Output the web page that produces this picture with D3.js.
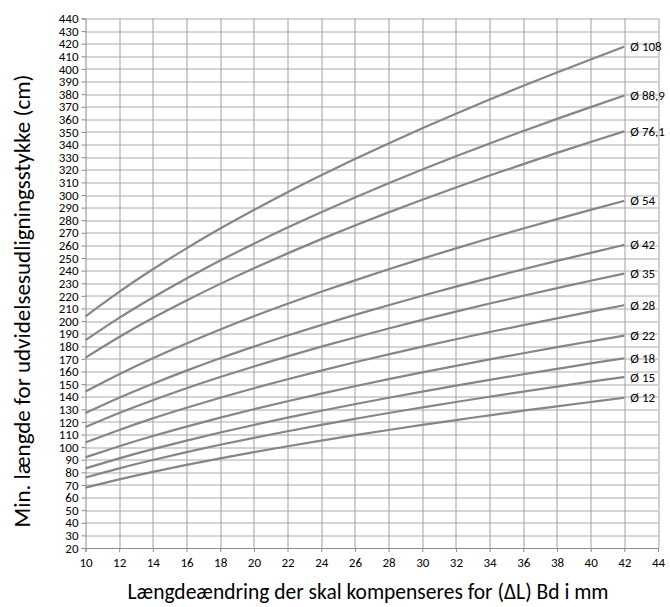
<!DOCTYPE html>
<html lang="da">
<head>
    <meta charset="UTF-8">
    <title>Udvidelsesudligning</title>
    <script src="https://d3js.org/d3.v7.min.js"></script>
    <style>
        body { margin: 0; background: #fff; }
        text { font-family: Carlito, Calibri, "Liberation Sans", sans-serif; }
    </style>
</head>
<body>
    <div id="chart"></div>

    <script>
        // length change (mm) at which every curve is read
        const deltaL = [10, 12, 14, 16, 18, 20, 22, 24, 26, 28, 30, 32, 34, 36, 38, 40, 42];

        // series (cm)
        const d12   = [67.9, 74.4, 80.4, 85.9, 91.1, 96.0, 100.7, 105.2, 109.5, 113.6, 117.6, 121.5, 125.2, 128.9, 132.4, 135.8, 139.2];
        const d15   = [75.9, 83.2, 89.8, 96.0, 101.9, 107.4, 112.6, 117.6, 122.4, 127.1, 131.5, 135.8, 140.0, 144.1, 148.0, 151.9, 155.6];
        const d18   = [83.2, 91.1, 98.4, 105.2, 111.6, 117.6, 123.4, 128.9, 134.1, 139.2, 144.1, 148.8, 153.4, 157.8, 162.1, 166.4, 170.5];
        const d22   = [92.0, 100.7, 108.8, 116.3, 123.4, 130.1, 136.4, 142.5, 148.3, 153.9, 159.3, 164.5, 169.6, 174.5, 179.3, 183.9, 188.5];
        const d28   = [103.7, 113.6, 122.8, 131.2, 139.2, 146.7, 153.9, 160.7, 167.3, 173.6, 179.7, 185.6, 191.3, 196.8, 202.2, 207.5, 212.6];
        const d35   = [116.0, 127.1, 137.2, 146.7, 155.6, 164.0, 172.0, 179.7, 187.0, 194.1, 200.9, 207.5, 213.9, 220.1, 226.1, 232.0, 237.7];
        const d42   = [127.1, 139.2, 150.3, 160.7, 170.5, 179.7, 188.5, 196.8, 204.9, 212.6, 220.1, 227.3, 234.3, 241.1, 247.7, 254.1, 260.4];
        const d54   = [144.1, 157.8, 170.5, 182.2, 193.3, 203.8, 213.7, 223.2, 232.3, 241.1, 249.5, 257.7, 265.7, 273.4, 280.9, 288.2, 295.3];
        const d76_1 = [171.0, 187.4, 202.4, 216.3, 229.5, 241.9, 253.7, 265.0, 275.8, 286.2, 296.2, 306.0, 315.4, 324.5, 333.4, 342.1, 350.5];
        const d88_9 = [184.9, 202.5, 218.7, 233.8, 248.0, 261.4, 274.2, 286.4, 298.1, 309.3, 320.2, 330.7, 340.9, 350.7, 360.4, 369.7, 378.9];
        const d108  = [203.8, 223.2, 241.1, 257.7, 273.4, 288.1, 302.2, 315.6, 328.5, 340.9, 352.9, 364.5, 375.7, 386.6, 397.2, 407.5, 417.6];

        const seriesNames = ['Ø 12', 'Ø 15', 'Ø 18', 'Ø 22', 'Ø 28', 'Ø 35', 'Ø 42', 'Ø 54', 'Ø 76,1', 'Ø 88,9', 'Ø 108'];
        const seriesValues = [d12, d15, d18, d22, d28, d35, d42, d54, d76_1, d88_9, d108];

        const xTicks = [10, 12, 14, 16, 18, 20, 22, 24, 26, 28, 30, 32, 34, 36, 38, 40, 42, 44];
        const yTicks = d3.range(20, 441, 10);

        const xTitle = 'Længdeændring der skal kompenseres for (ΔL) Bd i mm';
        const yTitle = 'Min. længde for udvidelsesudligningsstykke (cm)';

        const W = 670, H = 607;
        const margin = {top: 18.5, right: 12, bottom: 59, left: 85.5};
        const width = W - margin.left - margin.right,
              height = H - margin.top - margin.bottom;

        const svg = d3.select('#chart')
            .append('svg')
                .attr('width', W)
                .attr('height', H);

        const g = svg.append('g')
            .attr('transform', `translate(${margin.left}, ${margin.top})`);

        const x = d3.scaleLinear()
            .domain([10, 44])
            .range([0, width]);

        const y = d3.scaleLinear()
            .domain([20, 440])
            .range([height, 0]);

        // grid
        g.append('g')
            .selectAll('line')
            .data(yTicks.slice(1))
            .join('line')
                .attr('x1', 0)
                .attr('x2', width)
                .attr('y1', d => Math.round(y(d)) + 0.5)
                .attr('y2', d => Math.round(y(d)) + 0.5)
                .attr('stroke', '#aaaaaa');

        g.append('g')
            .selectAll('line')
            .data(xTicks.slice(1))
            .join('line')
                .attr('x1', d => Math.round(x(d)) + 0.5)
                .attr('x2', d => Math.round(x(d)) + 0.5)
                .attr('y1', 0)
                .attr('y2', height)
                .attr('stroke', '#a0a0a0');

        // axes
        const yAxis = g.append('g')
            .call(d3.axisLeft(y).tickValues(yTicks).tickSize(4).tickPadding(3));
        const xAxis = g.append('g')
            .attr('transform', `translate(0, ${height})`)
            .call(d3.axisBottom(x).tickValues(xTicks).tickSize(4).tickPadding(6));

        [yAxis, xAxis].forEach(a => {
            a.select('.domain').attr('stroke', '#8c8c8c');
            a.selectAll('.tick line').attr('stroke', '#8c8c8c');
            a.selectAll('.tick text')
                .attr('fill', '#000')
                .style('font-size', '13px')
                .style('font-family', 'Carlito, Calibri, "Liberation Sans", sans-serif');
        });

        // curves
        const line = d3.line()
            .x((d, i) => x(deltaL[i]))
            .y(d => y(d))
            .curve(d3.curveNatural);

        g.append('g')
            .selectAll('path')
            .data(seriesValues)
            .join('path')
                .attr('d', line)
                .attr('fill', 'none')
                .attr('stroke', '#868686')
                .attr('stroke-width', 2.2);

        // end labels
        g.append('g')
            .selectAll('text')
            .data(seriesValues)
            .join('text')
                .attr('x', x(deltaL[deltaL.length - 1]) + 6)
                .attr('y', d => y(d[d.length - 1]))
                .attr('dy', '0.35em')
                .style('font-size', '13px')
                .text((d, i) => seriesNames[i]);

        // titles
        svg.append('text')
            .attr('x', 368)
            .attr('y', 599)
            .attr('text-anchor', 'middle')
            .style('font-size', '21.5px')
            .text(xTitle);

        svg.append('text')
            .attr('transform', 'translate(30, 301) rotate(-90)')
            .attr('text-anchor', 'middle')
            .style('font-size', '23px')
            .text(yTitle);
    </script>
</body>
</html>
